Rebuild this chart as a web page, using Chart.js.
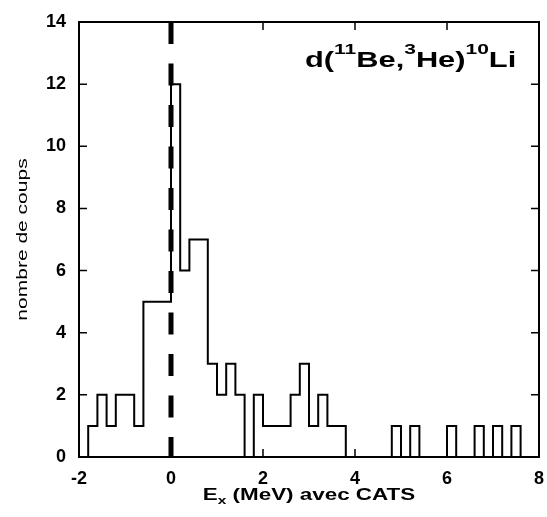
<!DOCTYPE html>
<html>
<head>
<meta charset="utf-8">
<script src="https://cdn.jsdelivr.net/npm/chart.js@4.4.1/dist/chart.umd.min.js"></script>
<style>
  html, body { margin: 0; padding: 0; background: #fff; }
  #wrap { width: 547px; height: 517px; }
</style>
</head>
<body>
<div id="wrap"><canvas id="histo"></canvas></div>
<script>
// lower edge of each 0.2 MeV bin
const binLow = [-2.0, -1.8, -1.6, -1.4, -1.2, -1.0, -0.8, -0.6, -0.4, -0.2,
                 0.0,  0.2,  0.4,  0.6,  0.8,  1.0,  1.2,  1.4,  1.6,  1.8,
                 2.0,  2.2,  2.4,  2.6,  2.8,  3.0,  3.2,  3.4,  3.6,  3.8,
                 4.0,  4.2,  4.4,  4.6,  4.8,  5.0,  5.2,  5.4,  5.6,  5.8,
                 6.0,  6.2,  6.4,  6.6,  6.8,  7.0,  7.2,  7.4,  7.6,  7.8];
// counts per bin
const counts = [0, 1, 2, 1, 2, 2, 1, 5, 5, 5,
                12, 6, 7, 7, 3, 2, 3, 2, 0, 2,
                1, 1, 1, 2, 3, 1, 2, 1, 1, 0,
                0, 0, 0, 0, 1, 0, 1, 0, 0, 0,
                1, 0, 0, 1, 0, 1, 0, 1, 0, 0];
const xTicks = [-2, 0, 2, 4, 6, 8];
const yTicks = [0, 2, 4, 6, 8, 10, 12, 14];
const markerX = 0;

const histPts = [{ x: binLow[0], y: 0 }];
binLow.forEach((x, i) => histPts.push({ x: x + 0.2, y: counts[i] }));

const FONT = "'Liberation Sans', Arial, sans-serif";
const STRETCH = 1.4; // the scan's lettering is wide

// draw a run of [text, font, dy] pieces, horizontally stretched
function drawRun(ctx, pieces, x, y, align) {
  let total = 0;
  pieces.forEach(p => { ctx.font = p[1]; total += ctx.measureText(p[0]).width; });
  ctx.save();
  ctx.translate(x, y);
  ctx.scale(STRETCH, 1);
  let cx = align === "center" ? -total / 2 : 0;
  ctx.textBaseline = "alphabetic";
  ctx.textAlign = "left";
  pieces.forEach(p => {
    ctx.font = p[1];
    ctx.fillText(p[0], cx, p[2] || 0);
    cx += ctx.measureText(p[0]).width;
  });
  ctx.restore();
}

// inward ticks on all four sides + closing frame
const frameTicks = {
  id: "frameTicks",
  afterDraw(chart) {
    const { ctx, chartArea: a, scales } = chart;
    ctx.save();
    ctx.strokeStyle = "#000";
    ctx.lineWidth = 2;
    ctx.strokeRect(a.left, a.top, a.right - a.left, a.bottom - a.top);
    ctx.lineWidth = 1.5;
    ctx.beginPath();
    xTicks.forEach(v => {
      const px = scales.x.getPixelForValue(v);
      ctx.moveTo(px, a.bottom); ctx.lineTo(px, a.bottom - 8);
      ctx.moveTo(px, a.top); ctx.lineTo(px, a.top + 8);
    });
    yTicks.forEach(v => {
      const py = scales.y.getPixelForValue(v);
      ctx.moveTo(a.left, py); ctx.lineTo(a.left + 8, py);
      ctx.moveTo(a.right, py); ctx.lineTo(a.right - 8, py);
    });
    ctx.stroke();
    ctx.restore();
  }
};

// axis titles and the reaction label
const texts = {
  id: "texts",
  afterDraw(chart) {
    const { ctx, chartArea: a } = chart;
    ctx.save();
    ctx.fillStyle = "#000";
    const big = "bold 16px " + FONT;
    drawRun(ctx, [["E", big], ["x", "bold 11px " + FONT, 4], [" (MeV) avec CATS", big]],
            (a.left + a.right) / 2, 500, "center");
    ctx.save();
    ctx.translate(27, (a.top + a.bottom) / 2);
    ctx.rotate(-Math.PI / 2);
    drawRun(ctx, [["nombre de coups", "15px " + FONT]], 0, 0, "center");
    ctx.restore();
    const r = "bold 22px " + FONT, s = "bold 15px " + FONT;
    drawRun(ctx, [["d(", r], ["11", s, -13], ["Be,", r], ["3", s, -13],
                  ["He)", r], ["10", s, -13], ["Li", r]], 305, 67, "left");
    ctx.restore();
  }
};

new Chart(document.getElementById("histo"), {
  type: "line",
  data: {
    datasets: [
      {
        label: "coups",
        data: histPts,
        stepped: "after",
        borderColor: "#000",
        borderWidth: 2,
        pointRadius: 0,
        fill: false
      },
      {
        label: "E=0",
        data: [{ x: markerX, y: 14 }, { x: markerX, y: 0 }],
        borderColor: "#000",
        borderWidth: 5,
        borderDash: [22, 19.5],
        pointRadius: 0,
        fill: false
      }
    ]
  },
  options: {
    responsive: true,
    maintainAspectRatio: false,
    animation: false,
    layout: { padding: { left: 0, right: 8, top: 22, bottom: 0 } },
    plugins: { legend: { display: false }, tooltip: { enabled: false } },
    scales: {
      x: {
        type: "linear",
        min: -2, max: 8,
        afterBuildTicks: s => { s.ticks = xTicks.map(v => ({ value: v })); },
        afterFit: s => { s.height = 60; s.paddingLeft = 0; s.paddingRight = 0; },
        grid: { display: false, drawTicks: false },
        border: { display: true, color: "#000", width: 2 },
        ticks: { color: "#000", padding: 11, font: { family: FONT, size: 18, weight: "bold" } }
      },
      y: {
        min: 0, max: 14,
        afterBuildTicks: s => { s.ticks = yTicks.map(v => ({ value: v })); },
        afterFit: s => { s.width = 79; s.paddingTop = 0; s.paddingBottom = 0; },
        grid: { display: false, drawTicks: false },
        border: { display: true, color: "#000", width: 2 },
        ticks: { color: "#000", padding: 13, font: { family: FONT, size: 18, weight: "bold" } }
      }
    }
  },
  plugins: [frameTicks, texts]
});
</script>
</body>
</html>
